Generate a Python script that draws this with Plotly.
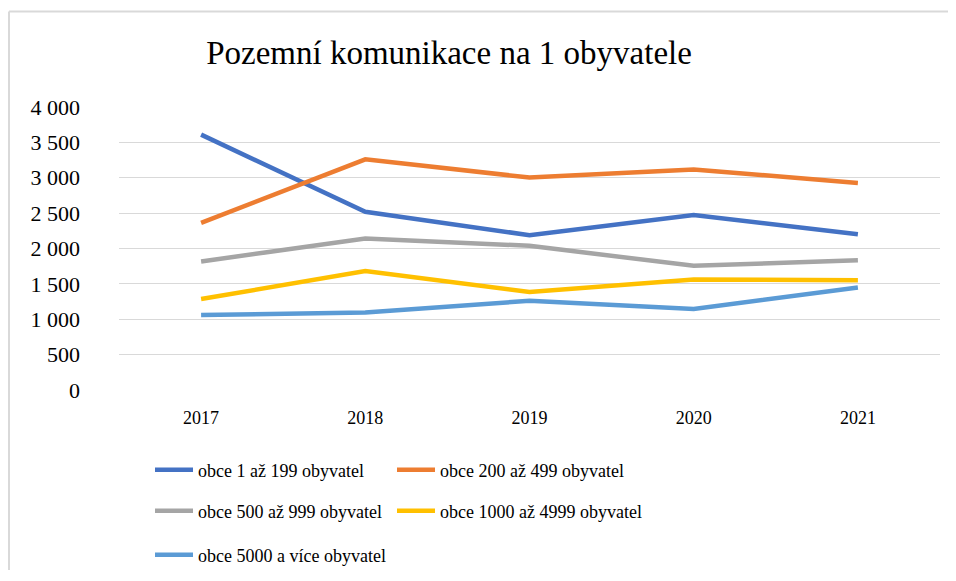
import plotly.graph_objects as go

years = ["2017", "2018", "2019", "2020", "2021"]
series_names = [
    "obce 1 až 199 obyvatel",
    "obce 200 až 499 obyvatel",
    "obce 500 až 999 obyvatel",
    "obce 1000 až 4999 obyvatel",
    "obce 5000 a více obyvatel",
]
obce_1_199 = [3610, 2518, 2188, 2472, 2202]
obce_200_499 = [2362, 3261, 3003, 3116, 2927]
obce_500_999 = [1817, 2141, 2038, 1755, 1835]
obce_1000_4999 = [1285, 1680, 1384, 1562, 1553]
obce_5000_plus = [1059, 1097, 1261, 1144, 1450]
colors = ["#4472C4", "#ED7D31", "#A5A5A5", "#FFC000", "#5B9BD5"]
y_tick_vals = [0, 500, 1000, 1500, 2000, 2500, 3000, 3500, 4000]
y_tick_text = ["0", "500", "1 000", "1 500", "2 000", "2 500", "3 000", "3 500", "4 000"]

values = [obce_1_199, obce_200_499, obce_500_999, obce_1000_4999, obce_5000_plus]

FONT = "Liberation Serif, Times New Roman, serif"
OFF = 8  # page body margin in the browser
W, H = 956 - 2 * OFF, 562
# plot area in page pixels: x 119..940, y 107..390
ML = 119 - OFF
MT = 107 - OFF
MR = (OFF + W) - 940
MB = (OFF + H) - 390
pw = W - ML - MR
ph = H - MT - MB

# legend slots (page px): symbol left x, row centre y
legend_slots = [(156, 470), (398, 470), (156, 511), (398, 511), (156, 555)]
legend_ids = ["legend", "legend2", "legend3", "legend4", "legend5"]

fig = go.Figure()
for name, vals, col, lg in zip(series_names, values, colors, legend_ids):
    fig.add_trace(go.Scatter(
        x=years, y=vals, name=name, mode="lines",
        line=dict(color=col, width=4.5),
        legend=lg, hoverinfo="x+y+name",
    ))

def leg(slot):
    sx, sy = slot
    return dict(
        orientation="h", xref="container", yref="container",
        x=(sx - OFF - 6) / W, y=1 - (sy - OFF) / H,
        xanchor="left", yanchor="middle", itemwidth=38,
        font=dict(family=FONT, size=18, color="#000"),
        bgcolor="rgba(0,0,0,0)",
    )

layout_legends = {lid: leg(slot) for lid, slot in zip(legend_ids, legend_slots)}

fig.update_layout(
    width=W, height=H,
    margin=dict(l=ML, r=MR, t=MT, b=MB),
    paper_bgcolor="white", plot_bgcolor="white",
    font=dict(family=FONT, color="#000"),
    title=dict(
        text="Pozemní komunikace na 1 obyvatele",
        font=dict(family=FONT, size=33, color="#000"),
        x=(449 - OFF) / W, xanchor="center", xref="container",
        y=1 - (52 - OFF) / H, yanchor="middle", yref="container",
    ),
    xaxis=dict(
        type="category", range=[-0.5, 4.5], showgrid=False,
        showline=False, zeroline=False, ticks="",
        tickfont=dict(family=FONT, size=18, color="#000"),
        ticklabelstandoff=15,
    ),
    yaxis=dict(
        range=[0, 4000], tickvals=y_tick_vals, ticktext=y_tick_text,
        showgrid=True, gridcolor="#D9D9D9", gridwidth=1.3,
        zeroline=False, showline=False, ticks="",
        tickfont=dict(family=FONT, size=22, color="#000"),
        ticklabelstandoff=38,
    ),
    showlegend=True,
    **layout_legends,
)

# chart-area frame (only top and left edges are visible in the reference)
fx0 = (9 - 119) / pw
fy1 = (390 - 11.5) / ph
fx_right = (OFF + W - 119) / pw
fy_bottom = -(OFF + H - 390) / ph
frame = dict(color="#D9D9D9", width=2)
fig.add_shape(type="line", xref="paper", yref="paper",
              x0=fx0, x1=fx_right, y0=fy1, y1=fy1,
              line=frame, layer="below")
fig.add_shape(type="line", xref="paper", yref="paper",
              x0=fx0, x1=fx0, y0=fy1, y1=fy_bottom,
              line=frame, layer="below")

fig.write_html("out.html")
